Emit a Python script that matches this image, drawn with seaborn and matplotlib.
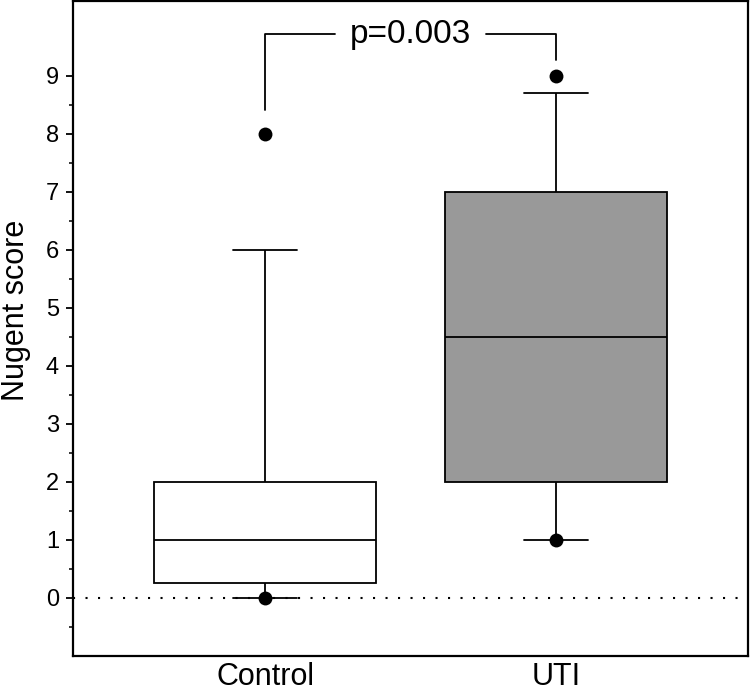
import numpy as np
import pandas as pd
import matplotlib
matplotlib.use("Agg")
import matplotlib.pyplot as plt
import seaborn as sns

### DATA

groups = ["Control", "UTI"]
whisker_low = [0, 1]
q1 = [0.25, 2]
median = [1, 4.5]
q3 = [2, 7]
whisker_high = [6, 8.7]
min_points = [0, 1]
max_points = [8, 9]
box_colors = ["white", "#999999"]
p_label = "p=0.003"

# bracket heights over each group
bracket_top = 9.72
bracket_left = 8.41
bracket_right = 9.28

### TABLE

# five values per group: their quartiles and min/max give the box exactly
rows = []
for g, a, b, c, d, e in zip(groups, whisker_low, q1, median, q3, whisker_high):
    for v in (a, b, c, d, e):
        rows.append({"group": g, "score": v})
df = pd.DataFrame(rows)

dots = pd.DataFrame({
    "group": groups + groups,
    "score": min_points + max_points,
})

### PLOT

sns.set_theme(style="ticks")
plt.rcParams["font.family"] = ["Liberation Sans", "DejaVu Sans"]
plt.rcParams["text.color"] = "black"
plt.rcParams["axes.labelcolor"] = "black"
plt.rcParams["xtick.color"] = "black"
plt.rcParams["ytick.color"] = "black"

fig = plt.figure(figsize=(7.5, 6.94), dpi=100)
ax = fig.add_axes([73 / 750, 1 - 656 / 694, 675 / 750, 655 / 694])

# dotted zero line
ax.axhline(0, color="black", lw=1.5, ls=(0, (1, 5)), zorder=0.5)

sns.boxplot(
    data=df, x="group", y="score", order=groups,
    hue="group", hue_order=groups, palette=box_colors, legend=False,
    whis=(0, 100), width=0.76, linecolor="black", linewidth=1.3,
    capwidths=0.22, ax=ax,
)

sns.stripplot(
    data=dots, x="group", y="score", order=groups,
    jitter=False, color="black", size=10, ax=ax, zorder=4,
)

# significance bracket
ax.plot([0, 0, 0.24], [bracket_left, bracket_top, bracket_top], color="black", lw=1.3)
ax.plot([0.76, 1, 1], [bracket_top, bracket_top, bracket_right], color="black", lw=1.3)
ax.text(0.5, bracket_top, p_label, ha="center", va="center", fontsize=24)

# axes
ax.set_xlim(-0.66, 1.66)
ax.set_ylim(-1.0, 10.29)
ax.set_yticks(range(0, 10))
ax.set_yticks(np.arange(-0.5, 9, 1), minor=True)
ax.tick_params(axis="y", which="major", direction="out", length=5, width=1.3,
               labelsize=17, pad=5, color="black")
ax.tick_params(axis="y", which="minor", direction="out", length=3, width=1.1,
               color="black")
ax.tick_params(axis="x", length=0, labelsize=22, pad=4)
ax.set_xlabel("")
ax.set_ylabel("Nugent score", fontsize=22)
ax.yaxis.set_label_coords(-0.062, 0.527)

for s in ax.spines.values():
    s.set_linewidth(1.6)
    s.set_color("black")

fig.savefig("out.png", dpi=100)
